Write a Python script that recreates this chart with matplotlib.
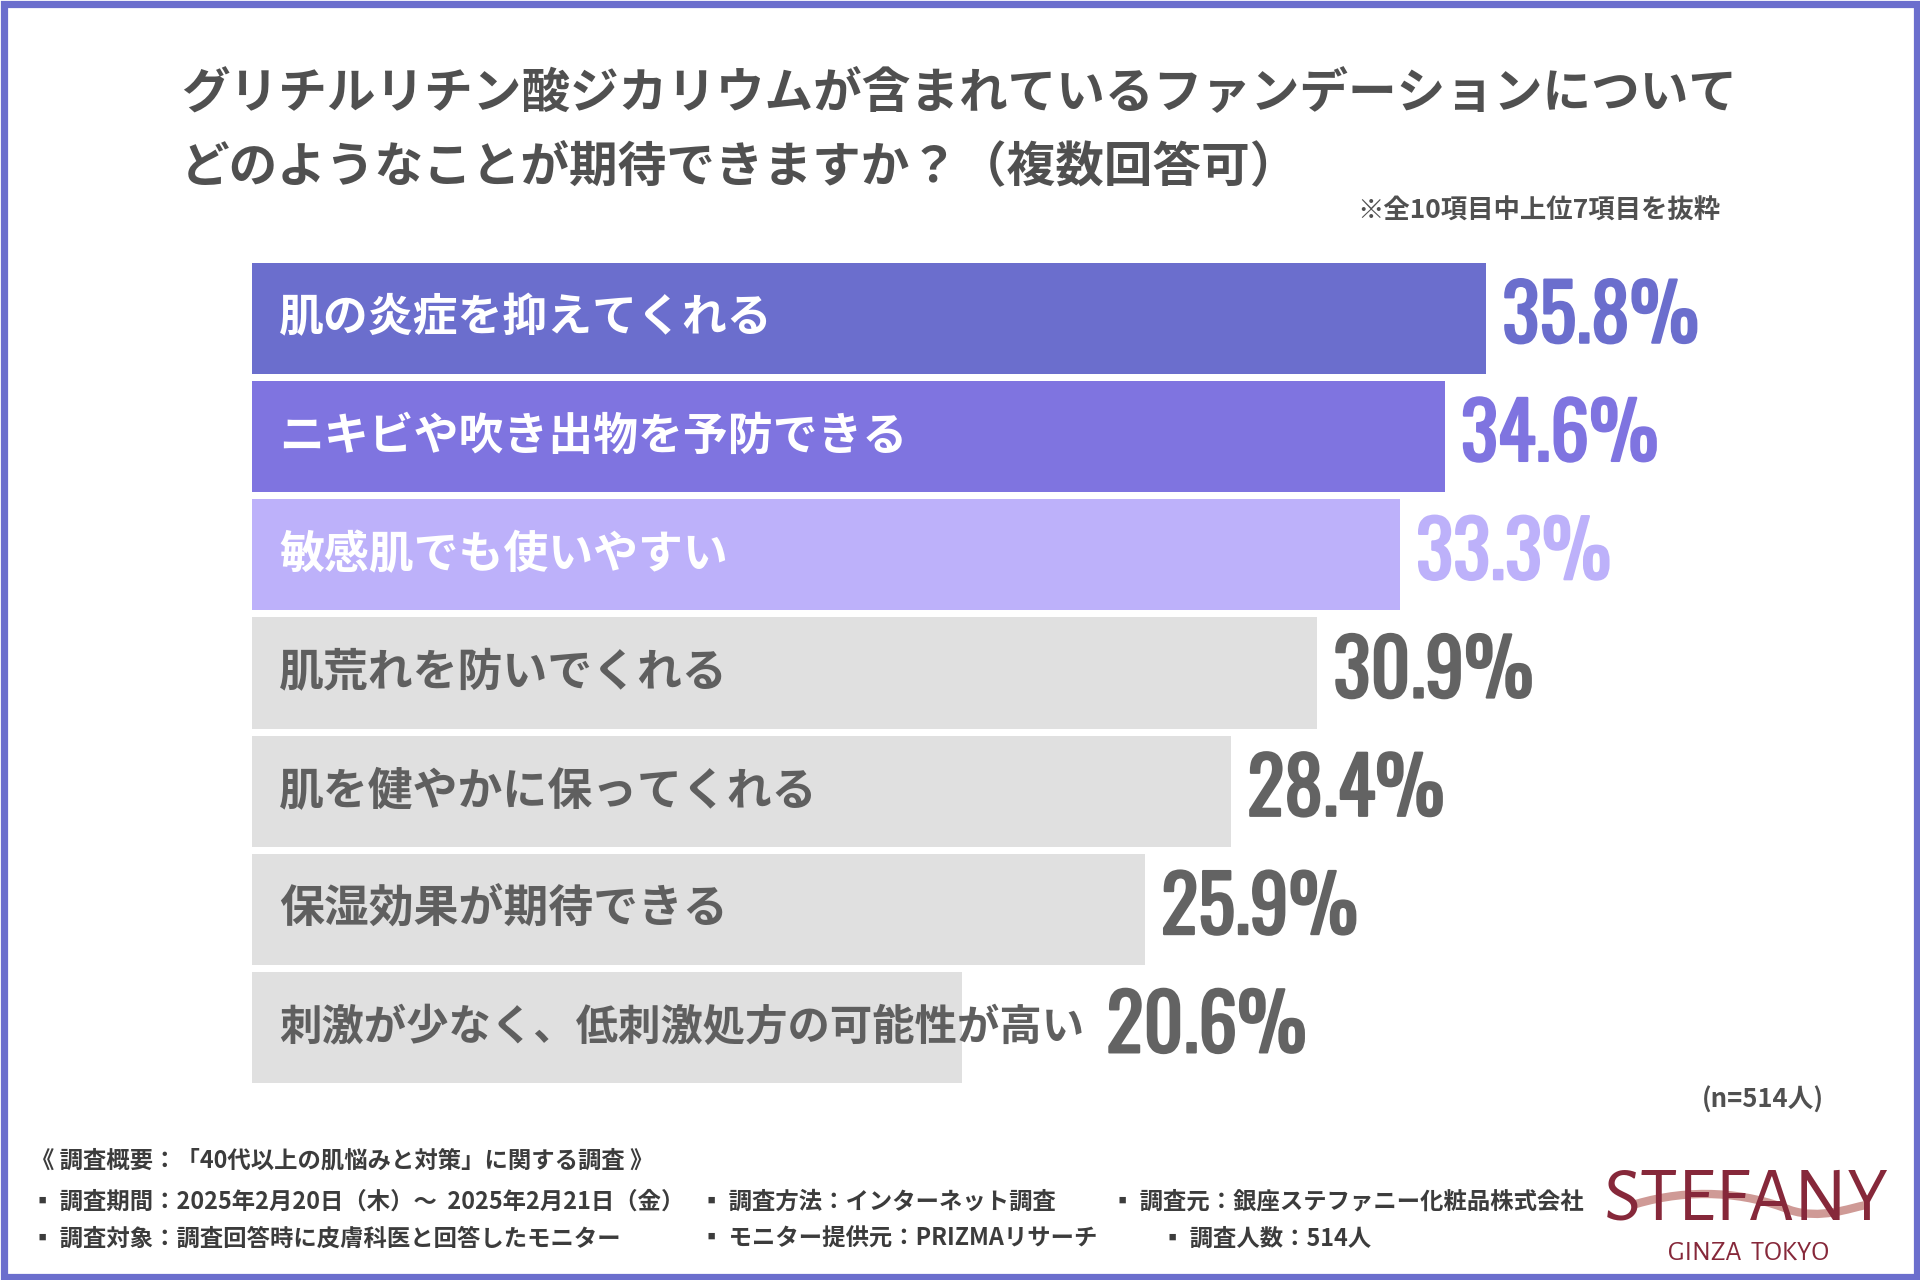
import matplotlib
matplotlib.use("Agg")
import matplotlib.pyplot as plt
import matplotlib.patheffects as pe
from matplotlib.patches import Rectangle, PathPatch
from matplotlib.path import Path

plt.rcParams['font.family'] = ['Noto Sans CJK JP', 'DejaVu Sans']

# data
categories = ["肌の炎症を抑えてくれる", "ニキビや吹き出物を予防できる", "敏感肌でも使いやすい",
              "肌荒れを防いでくれる", "肌を健やかに保ってくれる", "保湿効果が期待できる",
              "刺激が少なく、低刺激処方の可能性が高い"]
values = [35.8, 34.6, 33.3, 30.9, 28.4, 25.9, 20.6]
bar_colors = ["#6b6ecd", "#7f74e0", "#bdb1fa", "#e0e0e0", "#e0e0e0", "#e0e0e0", "#e0e0e0"]
label_colors = ["white", "white", "white", "#5f5f5f", "#5f5f5f", "#5f5f5f", "#5f5f5f"]
value_colors = ["#6b6ecd", "#7f74e0", "#bdb1fa", "#636363", "#636363", "#636363", "#636363"]

title_lines = ["グリチルリチン酸ジカリウムが含まれているファンデーションについて",
               "どのようなことが期待できますか？（複数回答可）"]
note = "※全10項目中上位7項目を抜粋"
n_text = "(n=514人)"
footer_head = "《 調査概要：「40代以上の肌悩みと対策」に関する調査 》"
footer_rows = [
    ["▪ 調査期間：2025年2月20日（木）～  2025年2月21日（金）", "▪ 調査方法：インターネット調査",
     "▪ 調査元：銀座ステファニー化粧品株式会社"],
    ["▪ 調査対象：調査回答時に皮膚科医と回答したモニター", "▪ モニター提供元：PRIZMAリサーチ",
     "▪ 調査人数：514人"],
]

fig = plt.figure(figsize=(19.2, 12.8), dpi=100)
fig.patch.set_facecolor("white")

# background axes in pixel units
bg = fig.add_axes([0, 0, 1, 1])
bg.set_xlim(0, 1920)
bg.set_ylim(1280, 0)
bg.axis("off")
bg.add_patch(Rectangle((3.5, 3.5), 1913, 1273, fill=False, edgecolor="#6b6ecd",
                       linewidth=5.2, clip_on=False))

for text, yy in zip(title_lines, [94, 168]):
    bg.text(181, yy, text, fontsize=35, fontweight="bold", color="#505050", va="center")
bg.text(1720, 211, note, fontsize=19, fontweight="bold", color="#505050", ha="right", va="center")
bg.text(1824, 1100, n_text, fontsize=18.5, fontweight="bold", color="#505050", ha="right", va="center")

bg.text(31, 1161, footer_head, fontsize=16.8, fontweight="bold", color="#3c3c3c", va="center")
col_x = [[31, 700, 1111], [31, 700, 1161]]
for row, xs, yy in zip(footer_rows, col_x, [1202, 1239]):
    for text, xx in zip(row, xs):
        bg.text(xx, yy, text, fontsize=16.8, fontweight="bold", color="#3c3c3c", va="center")

# logo
wave = Path([(1636, 1204), (1690, 1188), (1745, 1192), (1790, 1210),
             (1820, 1220), (1850, 1208), (1866, 1205)],
            [Path.MOVETO, Path.CURVE4, Path.CURVE4, Path.CURVE4,
             Path.CURVE4, Path.CURVE4, Path.CURVE4])
bg.add_patch(PathPatch(wave, fill=False, edgecolor="#cf9a96", linewidth=6, zorder=1))
bg.text(1746, 1199, "STEFANY", family=["Alegreya Sans", "DejaVu Sans"], fontsize=56,
        color="#86283a", ha="center", va="center", zorder=2)
bg.text(1748, 1252, "GINZA  TOKYO", family=["Alegreya Sans", "DejaVu Sans"], fontsize=20,
        color="#86283a", ha="center", va="center")

# bars
ax = fig.add_axes([252 / 1920, (1280 - 1087) / 1280, 1379 / 1920, 828 / 1280])
ax.set_xlim(0, 40)
ax.set_ylim(len(values) - 0.5, -0.5)
ax.axis("off")
ypos = list(range(len(values)))
ax.barh(ypos, values, height=0.94, color=bar_colors)

fig.canvas.draw()
renderer = fig.canvas.get_renderer()
for i, (cat, v) in enumerate(zip(categories, values)):
    lab = ax.annotate(cat, (0, i), xytext=(19.5, 0), textcoords="offset points",
                      fontsize=32.3 if len(cat) < 18 else 30.5, fontweight="bold",
                      color=label_colors[i], va="center", ha="left")
    bb = lab.get_window_extent(renderer)
    bar_end = ax.transData.transform((v, i))[0]
    start = max(bar_end + 16, bb.x1 + 22)
    off = (start - bar_end) * 72 / fig.dpi
    ax.annotate(f"{v}%", (v, i), xytext=(off, 0), textcoords="offset points",
                family=["Oswald", "DejaVu Sans"], fontsize=56,
                fontweight="bold", color=value_colors[i], va="center", ha="left",
                path_effects=[pe.withStroke(linewidth=1.6, foreground=value_colors[i])])

fig.savefig("out.png", dpi=100, facecolor="white")
